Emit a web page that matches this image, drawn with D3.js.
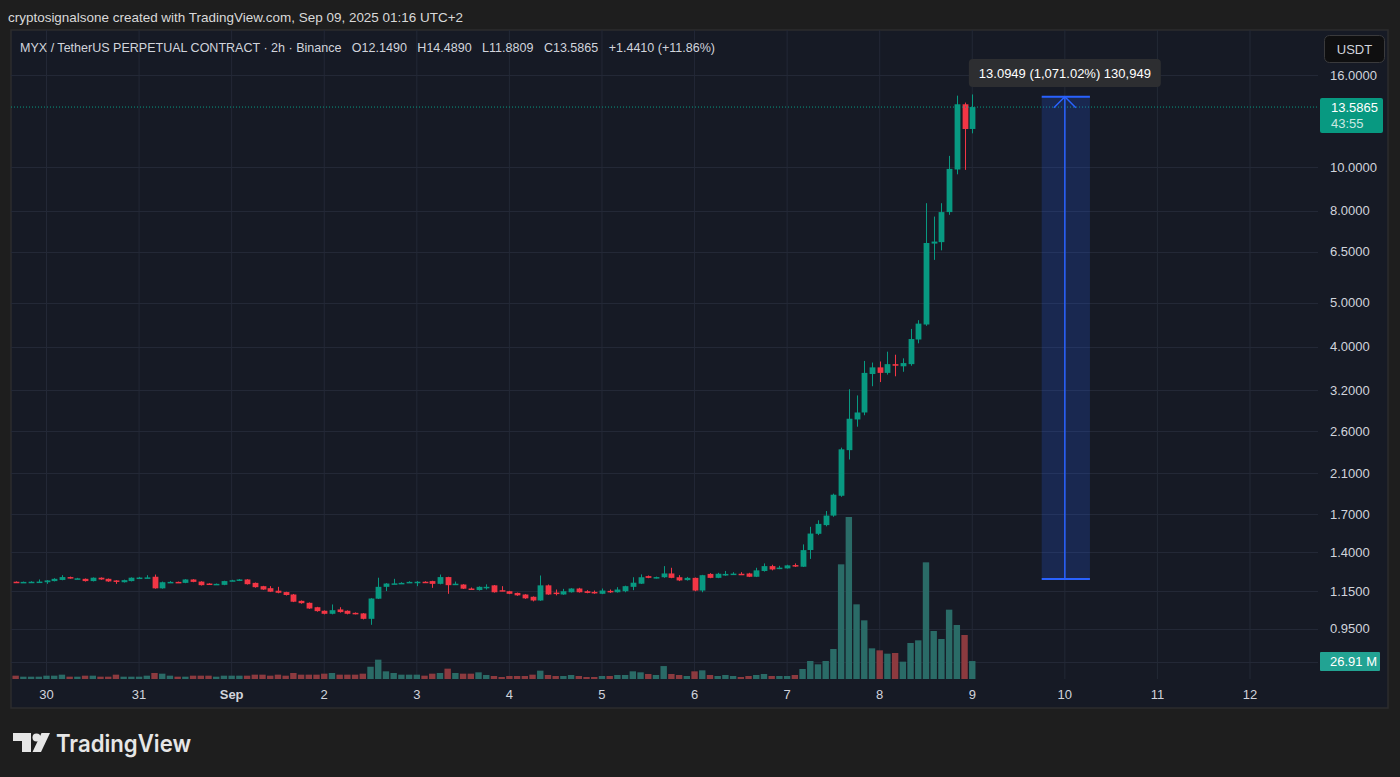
<!DOCTYPE html>
<html>
<head>
<meta charset="utf-8">
<script src="https://cdn.jsdelivr.net/npm/d3@7"></script>
<style>
  html, body { margin: 0; padding: 0; background: #1e1e1e; }
  svg { display: block; font-family: "Liberation Sans", Arial, sans-serif; }
</style>
</head>
<body>
<div id="chart"></div>
<script>
let width = 1400
let height = 777
let panel = { left: 11, top: 30, right: 1388, bottom: 708 }
let plot = { left: 11, top: 30, right: 1318, bottom: 679 }

// 2h candles, first one opens Aug 29 16:00 (UTC+2)
let firstBar = Date.UTC(2025, 7, 29, 16)
let barMs = 2 * 3600 * 1000

let opens = [1.206, 1.204, 1.204, 1.205, 1.203, 1.210, 1.217, 1.235, 1.225, 1.224,
  1.210, 1.231, 1.224, 1.214, 1.203, 1.210, 1.230, 1.230, 1.237, 1.166,
  1.203, 1.205, 1.199, 1.220, 1.207, 1.195, 1.190, 1.187, 1.212, 1.212,
  1.220, 1.199, 1.179, 1.167, 1.152, 1.144, 1.130, 1.094, 1.083, 1.059,
  1.040, 1.024, 1.047, 1.040, 1.029, 1.026, 0.998, 1.106, 1.175, 1.193,
  1.197, 1.203, 1.205, 1.206, 1.210, 1.193, 1.235, 1.191, 1.189, 1.165,
  1.156, 1.170, 1.184, 1.155, 1.149, 1.139, 1.130, 1.117, 1.096, 1.184,
  1.141, 1.130, 1.143, 1.165, 1.149, 1.145, 1.134, 1.151, 1.143, 1.149,
  1.175, 1.194, 1.241, 1.232, 1.234, 1.258, 1.234, 1.216, 1.230, 1.153,
  1.255, 1.230, 1.245, 1.254, 1.256, 1.258, 1.237, 1.274, 1.306, 1.288,
  1.291, 1.313, 1.302, 1.418, 1.54, 1.61, 1.69, 1.87, 2.36, 2.76,
  2.86, 3.48, 3.60, 3.50, 3.66, 3.62, 3.66, 4.15, 4.48, 6.77,
  6.82, 7.95, 9.88, 13.78, 12.149]
let highs = [1.208, 1.207, 1.209, 1.220, 1.216, 1.228, 1.247, 1.238, 1.230, 1.226,
  1.233, 1.233, 1.226, 1.216, 1.219, 1.233, 1.236, 1.247, 1.251, 1.207,
  1.210, 1.207, 1.222, 1.222, 1.209, 1.197, 1.195, 1.212, 1.218, 1.223,
  1.222, 1.201, 1.181, 1.179, 1.175, 1.146, 1.133, 1.096, 1.085, 1.061,
  1.042, 1.074, 1.059, 1.042, 1.031, 1.028, 1.109, 1.231, 1.198, 1.224,
  1.203, 1.209, 1.210, 1.209, 1.212, 1.251, 1.237, 1.207, 1.191, 1.171,
  1.178, 1.190, 1.186, 1.179, 1.151, 1.141, 1.132, 1.119, 1.245, 1.189,
  1.159, 1.163, 1.167, 1.169, 1.155, 1.153, 1.165, 1.159, 1.173, 1.182,
  1.234, 1.252, 1.245, 1.238, 1.306, 1.295, 1.247, 1.236, 1.232, 1.249,
  1.260, 1.262, 1.274, 1.266, 1.266, 1.262, 1.295, 1.324, 1.315, 1.308,
  1.315, 1.324, 1.459, 1.596, 1.65, 1.73, 1.89, 2.39, 3.22, 3.12,
  3.72, 3.69, 3.71, 3.90, 3.84, 3.77, 4.38, 4.58, 8.32, 7.77,
  8.32, 10.59, 14.40, 13.90, 14.489]
let lows = [1.202, 1.203, 1.201, 1.203, 1.193, 1.208, 1.215, 1.225, 1.223, 1.207,
  1.208, 1.218, 1.205, 1.193, 1.201, 1.208, 1.228, 1.228, 1.164, 1.164,
  1.200, 1.199, 1.197, 1.203, 1.183, 1.187, 1.188, 1.185, 1.210, 1.210,
  1.189, 1.170, 1.157, 1.144, 1.137, 1.124, 1.087, 1.078, 1.050, 1.035,
  1.021, 1.021, 1.030, 1.021, 1.021, 0.995, 0.968, 1.104, 1.150, 1.191,
  1.195, 1.201, 1.179, 1.201, 1.169, 1.190, 1.134, 1.189, 1.162, 1.158,
  1.153, 1.159, 1.141, 1.149, 1.132, 1.122, 1.105, 1.091, 1.094, 1.128,
  1.125, 1.128, 1.141, 1.141, 1.137, 1.134, 1.132, 1.139, 1.141, 1.143,
  1.155, 1.192, 1.228, 1.226, 1.230, 1.228, 1.210, 1.213, 1.149, 1.143,
  1.228, 1.228, 1.243, 1.250, 1.250, 1.235, 1.235, 1.270, 1.278, 1.286,
  1.290, 1.300, 1.300, 1.355, 1.53, 1.60, 1.68, 1.86, 2.25, 2.66,
  2.82, 3.27, 3.34, 3.47, 3.44, 3.52, 3.63, 4.07, 4.45, 6.23,
  6.54, 7.84, 9.64, 9.86, 11.8809]
let closes = [1.204, 1.205, 1.206, 1.207, 1.214, 1.224, 1.235, 1.228, 1.227, 1.210,
  1.231, 1.220, 1.208, 1.211, 1.216, 1.231, 1.232, 1.233, 1.166, 1.203,
  1.205, 1.202, 1.220, 1.205, 1.185, 1.189, 1.193, 1.210, 1.215, 1.220,
  1.191, 1.173, 1.159, 1.146, 1.140, 1.127, 1.089, 1.081, 1.052, 1.038,
  1.024, 1.043, 1.033, 1.024, 1.024, 0.998, 1.107, 1.175, 1.195, 1.196,
  1.199, 1.205, 1.206, 1.203, 1.193, 1.235, 1.185, 1.194, 1.164, 1.162,
  1.175, 1.175, 1.143, 1.151, 1.134, 1.125, 1.108, 1.096, 1.184, 1.130,
  1.137, 1.149, 1.165, 1.143, 1.139, 1.141, 1.153, 1.147, 1.159, 1.179,
  1.200, 1.234, 1.230, 1.235, 1.258, 1.230, 1.214, 1.230, 1.153, 1.247,
  1.230, 1.256, 1.255, 1.257, 1.253, 1.237, 1.278, 1.306, 1.284, 1.296,
  1.311, 1.310, 1.417, 1.542, 1.62, 1.69, 1.88, 2.37, 2.77, 2.86,
  3.50, 3.60, 3.50, 3.66, 3.63, 3.68, 4.16, 4.50, 6.79, 6.84,
  7.95, 9.91, 13.78, 12.1455, 13.5865]
// volume in millions
let volumes = [5, 3.5, 3.5, 3.5, 5, 5, 6.5, 3.5, 3.5, 5,
  5, 3.5, 3.5, 6.5, 3.5, 3.5, 3.5, 5, 9, 8,
  5, 3.5, 3.5, 5, 5, 5, 3.5, 5, 5, 5,
  5, 6.5, 6.5, 5, 6.5, 5, 9, 6.5, 6.5, 6.5,
  8, 9, 6.5, 6.5, 6.5, 8, 18.4, 29, 11.5, 9,
  6.5, 6.5, 6.5, 5, 8, 9, 15.5, 9, 8, 8,
  10, 6, 4.5, 3, 4.5, 4.5, 4.5, 6.5, 12.5, 6,
  4.5, 4.5, 6, 4.5, 3, 3, 4.5, 4.5, 6, 6,
  11.5, 10, 7.5, 6, 19.4, 7.5, 6, 4.5, 11.5, 13,
  6, 4.5, 6, 4.5, 3, 4.5, 6, 7.5, 4.5, 4.5,
  4.5, 6, 15, 27, 22, 27, 45, 172, 243, 112,
  88, 46, 43, 38, 39, 26, 54, 58, 175, 72,
  60, 104, 81, 66, 26.91]

// labelled price levels, plus one grid level whose label sits under the volume tag
let priceTicks = [16, 10, 8, 6.5, 5, 4, 3.2, 2.6, 2.1, 1.7, 1.4, 1.15, 0.95]
let hiddenTicks = [0.8]
let dayTicks = ["2025-08-30", "2025-08-31", "2025-09-01", "2025-09-02", "2025-09-03", "2025-09-04",
  "2025-09-05", "2025-09-06", "2025-09-07", "2025-09-08", "2025-09-09", "2025-09-10",
  "2025-09-11", "2025-09-12"]
let dayLabels = ["30", "31", "Sep", "2", "3", "4", "5", "6", "7", "8", "9", "10", "11", "12"]

// long position drawing
let toolFrom = Date.UTC(2025, 8, 9, 18)
let toolTo = Date.UTC(2025, 8, 10, 6, 30)
let toolEntry = 1.2226
let toolTarget = 14.3175
let toolText = "13.0949 (1,071.02%) 130,949"

let lastPrice = 13.5865
let lastVolume = "26.91 M"
let countdown = "43:55"

let data = opens.map((o, i) => ({
  t: new Date(firstBar + i * barMs),
  o: o, h: highs[i], l: lows[i], c: closes[i], v: volumes[i]
}))

let up = "#089981"
let down = "#f23645"
let grid = "#232836"
let textCol = "#d1d4dc"

let svg = d3.select("#chart").append("svg")
  .attr("width", width)
  .attr("height", height)

svg.append("rect").attr("width", width).attr("height", height).attr("fill", "#1e1e1e")

// chart panel
svg.append("rect")
  .attr("x", panel.left).attr("y", panel.top)
  .attr("width", panel.right - panel.left).attr("height", panel.bottom - panel.top)
  .attr("fill", "#161a25")
  .attr("stroke", "#2c2c2e")
  .attr("stroke-width", 1.5)

//scales
let xScale = d3.scaleUtc()
  .domain([Date.UTC(2025, 7, 30), Date.UTC(2025, 8, 12)])
  .range([46.5, 1250])

let yScale = d3.scaleLog()
  .domain([0.95, 16])
  .range([628.5, 75])

let vScale = d3.scaleLinear()
  .domain([0, 243])
  .range([plot.bottom, 517])

let dayDates = dayTicks.map(d => new Date(d + "T00:00:00Z"))

// grid
svg.append("g").selectAll("line")
  .data(dayDates)
  .enter().append("line")
  .attr("x1", d => xScale(d)).attr("x2", d => xScale(d))
  .attr("y1", plot.top).attr("y2", plot.bottom)
  .attr("stroke", grid)

svg.append("g").selectAll("line")
  .data(priceTicks.concat(hiddenTicks))
  .enter().append("line")
  .attr("x1", plot.left).attr("x2", plot.right)
  .attr("y1", d => Math.round(yScale(d)) + 0.5).attr("y2", d => Math.round(yScale(d)) + 0.5)
  .attr("stroke", grid)

svg.append("clipPath").attr("id", "clip")
  .append("rect")
  .attr("x", plot.left).attr("y", plot.top)
  .attr("width", plot.right - plot.left).attr("height", plot.bottom - plot.top)

let plotG = svg.append("g").attr("clip-path", "url(#clip)")

// volume
plotG.append("g").selectAll("rect")
  .data(data)
  .enter().append("rect")
  .attr("x", d => xScale(d.t) - 3.2)
  .attr("width", 6.4)
  .attr("y", d => vScale(d.v))
  .attr("height", d => plot.bottom - vScale(d.v))
  .attr("fill", d => d.c >= d.o ? "#2a6b67" : "#8c3a3f")

// wicks
plotG.append("g").selectAll("line")
  .data(data)
  .enter().append("line")
  .attr("x1", d => Math.round(xScale(d.t)) + 0.5)
  .attr("x2", d => Math.round(xScale(d.t)) + 0.5)
  .attr("y1", d => yScale(d.h))
  .attr("y2", d => yScale(d.l))
  .attr("stroke", d => d.c >= d.o ? up : down)
  .attr("stroke-width", 1)

// bodies
plotG.append("g").selectAll("rect")
  .data(data)
  .enter().append("rect")
  .attr("x", d => Math.round(xScale(d.t)) + 0.5 - 2.9)
  .attr("width", 5.8)
  .attr("y", d => yScale(Math.max(d.o, d.c)))
  .attr("height", d => Math.max(1.5, Math.abs(yScale(d.o) - yScale(d.c))))
  .attr("fill", d => d.c >= d.o ? up : down)

// last price dotted line
plotG.append("line")
  .attr("x1", plot.left).attr("x2", plot.right)
  .attr("y1", yScale(lastPrice)).attr("y2", yScale(lastPrice))
  .attr("stroke", up)
  .attr("stroke-dasharray", "1,2")

// long position tool
let tx0 = xScale(toolFrom), tx1 = xScale(toolTo)
let tyTop = yScale(toolTarget), tyBot = yScale(toolEntry)
let tmid = xScale(Date.UTC(2025, 8, 10))
plotG.append("rect")
  .attr("x", tx0).attr("y", tyTop)
  .attr("width", tx1 - tx0).attr("height", tyBot - tyTop)
  .attr("fill", "rgba(41,98,255,0.2)")
plotG.append("line")
  .attr("x1", tx0).attr("x2", tx1).attr("y1", tyTop).attr("y2", tyTop)
  .attr("stroke", "#2962ff").attr("stroke-width", 2)
plotG.append("line")
  .attr("x1", tx0).attr("x2", tx1).attr("y1", tyBot).attr("y2", tyBot)
  .attr("stroke", "#2962ff").attr("stroke-width", 2)
plotG.append("line")
  .attr("x1", tmid).attr("x2", tmid).attr("y1", tyBot).attr("y2", tyTop)
  .attr("stroke", "#2962ff").attr("stroke-width", 1.5)
plotG.append("path")
  .attr("d", `M${tmid - 11},${tyTop + 11}L${tmid},${tyTop}L${tmid + 11},${tyTop + 11}`)
  .attr("fill", "none").attr("stroke", "#2962ff").attr("stroke-width", 1.5)

let tLabel = svg.append("g")
tLabel.append("rect")
  .attr("x", tmid - 96).attr("y", 59)
  .attr("width", 192).attr("height", 28).attr("rx", 4)
  .attr("fill", "#2d2e31")
tLabel.append("text")
  .attr("x", tmid).attr("y", 77.5)
  .attr("text-anchor", "middle")
  .attr("fill", "#ffffff")
  .attr("font-size", 13)
  .text(toolText)

// price axis labels
svg.append("g").selectAll("text")
  .data(priceTicks)
  .enter().append("text")
  .attr("x", 1330)
  .attr("y", d => yScale(d) + 4.5)
  .attr("fill", textCol)
  .attr("font-size", 13)
  .text(d => d.toFixed(4))

// last price marker
svg.append("rect")
  .attr("x", 1320).attr("y", 98).attr("width", 63).attr("height", 35).attr("rx", 2)
  .attr("fill", up)
svg.append("text").attr("x", 1331).attr("y", 112).attr("fill", "#ffffff")
  .attr("font-size", 13).text(lastPrice.toFixed(4))
svg.append("text").attr("x", 1331).attr("y", 128).attr("fill", "rgba(255,255,255,0.8)")
  .attr("font-size", 13).text(countdown)

// volume marker
svg.append("rect")
  .attr("x", 1320).attr("y", 652).attr("width", 60).attr("height", 19).attr("rx", 1)
  .attr("fill", "#22a393")
svg.append("text").attr("x", 1330).attr("y", 666).attr("fill", "#ffffff")
  .attr("font-size", 13).text(lastVolume)

// currency button
svg.append("rect")
  .attr("x", 1324.5).attr("y", 35.5).attr("width", 60).attr("height", 27).attr("rx", 5)
  .attr("fill", "#0f0f10").attr("stroke", "#3a3a3c")
svg.append("text").attr("x", 1354.5).attr("y", 53.5).attr("text-anchor", "middle")
  .attr("fill", textCol).attr("font-size", 13).text("USDT")

// time axis labels
svg.append("g").selectAll("text")
  .data(dayDates)
  .enter().append("text")
  .attr("x", d => xScale(d))
  .attr("y", 699)
  .attr("text-anchor", "middle")
  .attr("fill", textCol)
  .attr("font-size", 13)
  .attr("font-weight", (d, i) => dayLabels[i] == "Sep" ? "bold" : "normal")
  .text((d, i) => dayLabels[i])

// header texts
svg.append("text").attr("x", 8).attr("y", 22)
  .attr("fill", "#d9d9d9").attr("font-size", 13)
  .attr("textLength", 455).attr("lengthAdjust", "spacingAndGlyphs")
  .text("cryptosignalsone created with TradingView.com, Sep 09, 2025 01:16 UTC+2")
svg.append("text").attr("x", 20).attr("y", 52)
  .attr("fill", textCol).attr("font-size", 13)
  .style("white-space", "pre")
  .attr("textLength", 695).attr("lengthAdjust", "spacingAndGlyphs")
  .text("MYX / TetherUS PERPETUAL CONTRACT · 2h · Binance   O12.1490   H14.4890   L11.8809   C13.5865   +1.4410 (+11.86%)")

// TradingView logo
let logo = svg.append("g").attr("fill", "#e6e6e6")
logo.append("path").attr("d", "M13,733H31V752H22V741H13Z")
logo.append("circle").attr("cx", 36.5).attr("cy", 737.5).attr("r", 4)
logo.append("path").attr("d", "M41.5,733H50L41,752H32.5Z")
logo.append("text").attr("x", 56).attr("y", 752)
  .attr("font-size", 24).attr("font-weight", 600)
  .attr("font-family", "Inter, 'Noto Sans', sans-serif")
  .attr("textLength", 135).attr("lengthAdjust", "spacingAndGlyphs")
  .text("TradingView")
</script>
</body>
</html>
